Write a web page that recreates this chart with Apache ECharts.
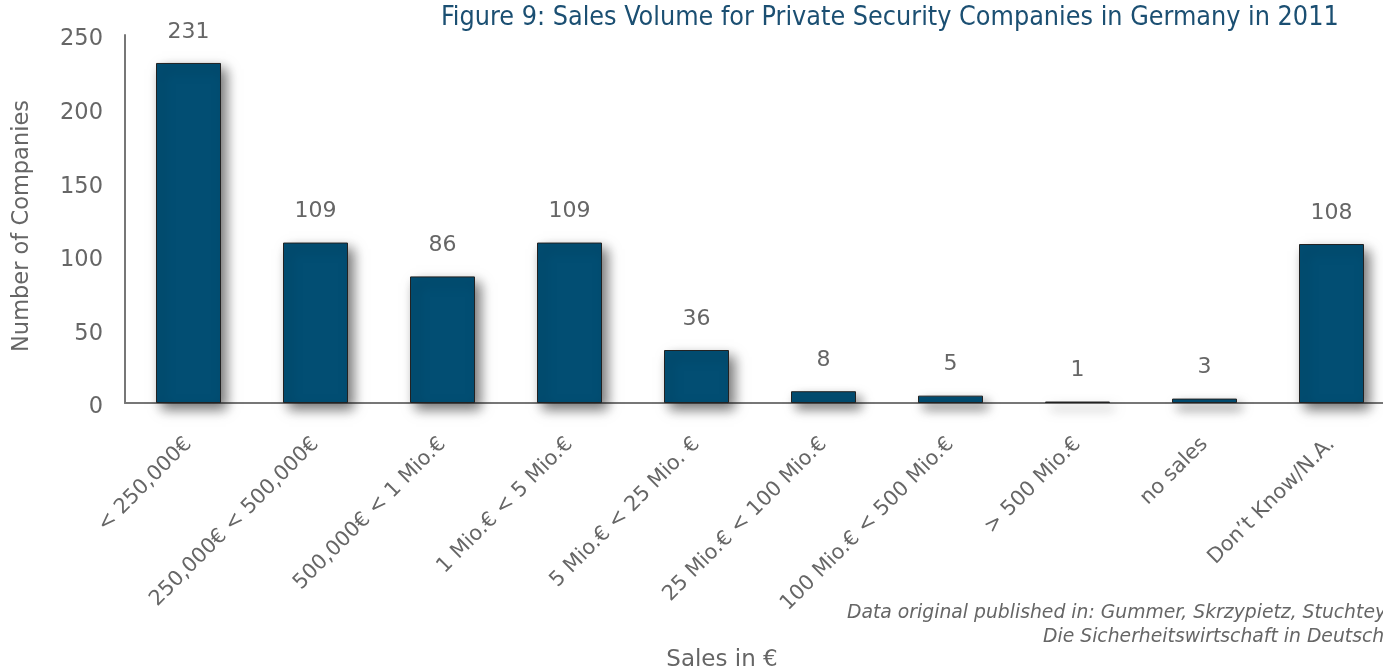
<!DOCTYPE html>
<html>
<head>
<meta charset="utf-8">
<script src="https://cdn.jsdelivr.net/npm/echarts@6/dist/echarts.min.js"></script>
<style>
  html, body { margin: 0; padding: 0; background: #fff; }
  #chart { width: 1383px; height: 666px; }
</style>
</head>
<body>
<div id="chart"></div>
<script>
// categories of yearly sales
var categories = [
  "< 250,000€", "250,000€ < 500,000€", "500,000€ < 1 Mio.€", "1 Mio.€ < 5 Mio.€",
  "5 Mio.€ < 25 Mio. €", "25 Mio.€ < 100 Mio.€", "100 Mio.€ < 500 Mio.€",
  "> 500 Mio.€", "no sales", "Don’t Know/N.A."
];
// number of companies per class
var companies = [231, 109, 86, 109, 36, 8, 5, 1, 3, 108];
var yTicks = [0, 50, 100, 150, 200, 250];

var chart = echarts.init(document.getElementById("chart"));
var gray = "#666666";
var font = "Verdana, 'DejaVu Sans', sans-serif";

var option = {
  animation: false,
  title: {
    text: "Figure 9: Sales Volume for Private Security Companies in Germany in 2011",
    left: 436,
    top: 0,
    textStyle: { color: "#1b4f72", fontSize: 26.7, fontWeight: "normal", fontFamily: "'DejaVu Sans Condensed', 'DejaVu Sans', sans-serif" }
  },
  grid: { left: 125, top: 35, width: 1270, height: 368, outerBoundsMode: "none", containLabel: false },
  xAxis: {
    type: "category",
    data: categories,
    name: "Sales in €",
    nameLocation: "middle",
    nameGap: 246,
    nameTextStyle: { color: gray, fontSize: 23, fontFamily: font, padding: [0, 76, 0, 0] },
    axisLine: { lineStyle: { color: "#777777", width: 2 } },
    axisTick: { show: false },
    axisLabel: { rotate: 45, color: gray, fontSize: 20.8, fontFamily: font, margin: 38, interval: 0 }
  },
  yAxis: {
    type: "value",
    min: yTicks[0],
    max: yTicks[yTicks.length - 1],
    interval: 50,
    name: "Number of Companies",
    nameLocation: "middle",
    nameGap: 91,
    nameTextStyle: { color: gray, fontSize: 22.5, fontFamily: font, padding: [0, 14, 0, 0] },
    axisLine: { show: true, lineStyle: { color: "#777777", width: 2 } },
    axisTick: { show: false },
    splitLine: { show: false },
    axisLabel: {
      color: gray, margin: 22,
      formatter: "{v|{value}}",
      rich: { v: { fontSize: 22.5, fontFamily: font, color: gray, padding: [9, 0, 0, 0] } }
    }
  },
  series: [{
    type: "bar",
    data: companies,
    barWidth: 65,
    itemStyle: {
      color: "#024e73",
      borderColor: "#222222",
      borderWidth: 1,
      shadowBlur: 12,
      shadowOffsetX: 5,
      shadowOffsetY: 6,
      shadowColor: "rgba(0,0,0,0.55)"
    },
    label: { show: true, position: "top", distance: 20, color: gray, fontSize: 22, fontFamily: font }
  }],
  graphic: [
    {
      type: "text", left: 847, top: 604,
      style: { text: "Data original published in: Gummer, Skrzypietz, Stuchtey", fill: gray, font: "italic 18.8px " + font }
    },
    {
      type: "text", left: 1043, top: 628,
      style: { text: "Die Sicherheitswirtschaft in Deutschland", fill: gray, font: "italic 18.8px " + font }
    }
  ]
};

chart.setOption(option);
window.addEventListener("resize", function () {
  chart.resize();
});
</script>
</body>
</html>
